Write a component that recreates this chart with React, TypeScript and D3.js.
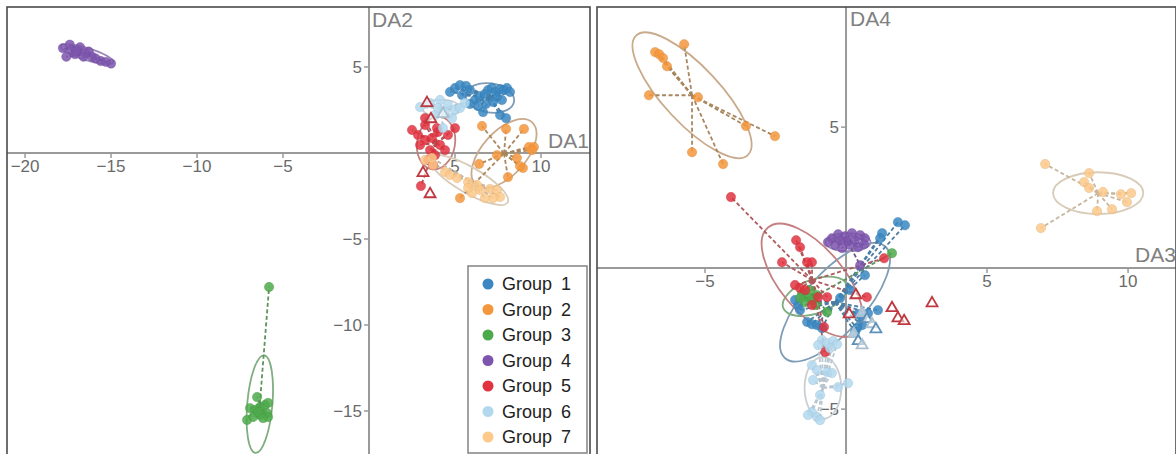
import React from "react";
import * as d3 from "d3";

type P = [number, number];

const groupLabels = ["Group", "Group", "Group", "Group", "Group", "Group", "Group"];
const groupNumbers = ["1", "2", "3", "4", "5", "6", "7"];
const pointColors = ["#3a87c2", "#f4973c", "#4daa4b", "#7d55ad", "#e0333f", "#b3d8ee", "#fdc98a"];
const lineColors = ["#4d7ea3", "#a8875f", "#5e925e", "#6a5a8f", "#b0585c", "#b9c6cf", "#c7b79e"];
const ellipseColors = ["#7d9cb7", "#c9aa8b", "#7fae7f", "#9a88b8", "#c47f80", "#c9cfd3", "#d8cbb7"];

// ---------- Left panel: DA1 (x) vs DA2 (y) ----------
const a1: P[] = [[4.71,3.55],[5.0,3.78],[5.29,3.95],[5.64,3.9],[5.87,3.66],[5.41,3.37],[6.16,3.08],[6.45,3.31],[6.74,3.43],[6.92,3.66],[7.15,3.78],[7.38,3.55],[7.62,3.72],[7.85,3.66],[8.02,3.78],[7.44,3.26],[7.73,3.08],[7.21,2.97],[6.8,2.85],[6.34,2.73],[5.87,2.85],[7.62,2.21],[7.97,2.03],[6.63,2.38],[8.2,3.55]];
const a2: P[] = [[6.57,1.57],[7.97,1.4],[9.01,1.4],[9.3,0.35],[9.59,0.35],[9.48,0.17],[7.44,-0.12],[8.6,-0.29],[8.95,-0.87],[8.08,-1.4],[6.4,-0.64],[8.78,-0.76],[5.29,-2.62]];
const a3: P[] = [[-5.81,-7.79],[-6.51,-14.19],[-6.92,-14.83],[-6.63,-14.94],[-6.34,-14.77],[-6.05,-14.65],[-5.87,-14.53],[-7.09,-15.52],[-6.74,-15.35],[-6.34,-15.23],[-5.93,-15.12],[-5.87,-15.35],[-6.45,-15.06],[-6.16,-15.41]];
const a4: P[] = [[-17.8,6.1],[-17.4,6.3],[-17.3,6.0],[-16.8,6.15],[-16.3,5.9],[-16.1,5.6],[-15.6,5.35],[-15.0,5.2],[-17.6,5.6],[-17.1,5.75],[-16.6,5.6],[-15.9,5.5],[-15.3,5.3],[-17.0,5.95],[-16.5,5.8]];
const a5: P[] = [[2.5,1.34],[3.26,1.63],[2.85,1.05],[3.26,0.76],[3.66,0.87],[4.01,1.22],[4.13,0.47],[4.42,0.17],[3.55,0.17],[2.97,0.47],[3.95,1.45],[4.59,1.05],[5.0,1.45],[3.43,-0.41],[3.84,-0.12],[3.02,-1.92],[3.72,-0.7],[3.26,2.03]];
const a6: P[] = [[2.97,2.67],[3.55,2.91],[4.13,3.08],[4.59,2.79],[5.0,2.5],[4.42,2.38],[3.84,2.21],[5.29,2.62],[4.83,2.03],[4.01,2.62],[5.58,2.91],[4.3,1.45]];
const a7: P[] = [[3.26,-0.41],[3.72,-0.7],[3.66,-0.29],[4.42,-1.1],[4.71,-1.28],[5.12,-1.45],[5.76,-1.69],[6.28,-1.86],[6.45,-2.15],[7.03,-2.09],[7.44,-2.15],[7.62,-2.56],[7.21,-2.62],[6.74,-2.62],[5.99,-2.33],[5.76,-2.03]];
// [group index, centre x, centre y, semi-axis a, semi-axis b, angle in degrees]
const aEllipses: number[][] = [[0,7.03,3.2,1.42,0.85,-8],[1,7.85,-0.03,2.44,1.28,48],[2,-6.35,-14.6,2.85,0.73,85],[3,-16.4,5.75,1.6,0.35,-17],[4,3.9,0.58,1.54,1.1,80],[5,4.2,2.6,1.1,0.5,0],[6,5.81,-1.57,2.6,0.75,-30]];
const aTriRed: P[] = [[3.37,2.97],[3.6,2.03],[3.14,-1.1],[3.55,-2.33]];
const aTriLight: P[] = [[4.3,2.33]];
const aTicksX = [-20, -15, -10, -5, 5, 10];
const aTicksY = [5, -5, -10, -15];

// ---------- Right panel: DA3 (x) vs DA4 (y) ----------
const b1: P[] = [[1.84,1.63],[2.09,1.52],[1.28,1.24],[1.21,1.06],[1.13,-1.49],[-1.7,-1.31],[-1.63,-1.49],[-1.38,-1.91],[-1.21,-1.99],[-1.03,-2.02],[-0.85,-2.13],[0.43,-1.63],[0.57,-1.77],[0.78,-1.6],[0.57,-2.02],[0.39,-2.13],[0.32,-2.27],[-1.81,-1.13],[-0.21,-1.06],[0.14,-0.78],[0.67,-0.25]];
const b2: P[] = [[-6.77,7.66],[-6.63,7.59],[-6.49,7.45],[-6.35,7.16],[-5.74,7.94],[-6.99,6.13],[-5.25,6.06],[-3.55,5.04],[-2.52,4.68],[-5.46,4.11],[-4.36,3.69]];
const b3: P[] = [[-1.56,-0.89],[-1.35,-1.03],[-1.21,-1.13],[-1.45,-1.21],[-1.03,-0.96],[-1.28,-0.78],[-1.1,-1.31],[-0.67,-1.56],[1.63,0.53],[-1.63,-1.06]];
const b4: P[] = [[-0.5,1.06],[-0.28,1.2],[-0.04,1.13],[0.21,1.24],[0.5,1.17],[0.67,1.06],[-0.39,0.82],[-0.14,0.71],[0.14,0.82],[0.43,0.74],[0.64,0.85],[-0.64,0.92],[0.04,0.96],[0.32,0.99],[-0.21,0.99],[0.5,0.1]];
const b5: P[] = [[-4.08,2.52],[-1.77,0.99],[-1.63,0.74],[-2.27,0.21],[-1.21,0.21],[-1.38,0.21],[-1.63,-0.71],[-0.99,-1.03],[-0.67,-1.03],[-0.78,-2.09],[-0.74,-2.98],[1.35,0.35],[0.74,-1.03],[-1.45,-0.78],[-1.21,-1.31],[-1.81,-0.6]];
const b6: P[] = [[-0.85,-2.55],[-0.67,-2.66],[-0.46,-2.59],[-0.32,-2.7],[-0.99,-2.73],[-0.57,-2.84],[-1.21,-3.44],[-1.03,-3.62],[-0.67,-3.69],[-0.5,-3.72],[-1.17,-3.97],[-0.28,-4.22],[0.07,-4.08],[-0.92,-4.5],[-1.21,-5.11],[-1.03,-5.28],[-0.92,-5.39],[-1.35,-5.21]];
const b7: P[] = [[7.06,3.69],[8.62,3.37],[8.44,3.05],[8.62,2.84],[9.11,2.7],[9.75,2.62],[10.11,2.66],[9.96,2.34],[8.9,2.02],[9.43,2.09],[6.91,1.42]];
const bEllipses: number[][] = [[0,-0.39,-1.21,2.66,1.06,48],[1,-5.46,6.13,2.9,1.0,-47],[2,-1.1,-1.0,1.2,0.6,20],[3,0.07,0.92,0.8,0.32,0],[4,-1.2,-0.43,2.44,1.13,-50],[5,-0.82,-4.25,1.1,0.65,90],[6,8.94,2.66,1.6,0.74,0]];
const bTriRed: P[] = [[0.35,-0.92],[0.11,-1.6],[1.63,-1.38],[1.84,-1.74],[2.06,-1.84],[3.05,-1.21]];
const bTriLight: P[] = [[0.57,-1.56],[0.74,-1.77],[0.92,-1.95],[1.06,-2.13],[0.28,-2.3],[0.43,-2.55],[0.57,-2.7]];
const bTicksX = [-5, 5, 10];
const bTicksY = [5, -5];

const fmt = d3.format("d");
const FONT = "'Liberation Sans', Arial, sans-serif";

type PanelProps = {
  id: string;
  frame: { x0: number; y0: number; x1: number; y1: number };
  xDomain: [number, number];
  yDomain: [number, number];
  groups: P[][];
  ellipses: number[][];
  triRed: P[];
  triLight: P[];
  ticksX: number[];
  ticksY: number[];
  xLabel: string;
  yLabel: string;
  xLabelPos: [number, number];
  yLabelPos: [number, number];
};

function Panel(p: PanelProps) {
  const { frame } = p;
  const x = d3.scaleLinear().domain(p.xDomain).range([frame.x0, frame.x1]);
  const y = d3.scaleLinear().domain(p.yDomain).range([frame.y0, frame.y1]);
  const x0 = x(0);
  const y0 = y(0);
  const kx = Math.abs(x(1) - x(0));
  const ky = Math.abs(y(1) - y(0));
  const tri = d3.symbol(d3.symbolTriangle, 52)();
  return (
    <g>
      <defs>
        <clipPath id={p.id}>
          <rect x={frame.x0} y={frame.y0} width={frame.x1 - frame.x0} height={frame.y1 - frame.y0} />
        </clipPath>
      </defs>
      <g clipPath={`url(#${p.id})`}>
        <line x1={frame.x0} x2={frame.x1} y1={y0} y2={y0} stroke="#9a9a9a" strokeWidth={2} />
        <line x1={x0} x2={x0} y1={frame.y0} y2={frame.y1} stroke="#9a9a9a" strokeWidth={2} />
        {p.ticksX.map((t) => (
          <g key={"tx" + t}>
            <line x1={x(t)} x2={x(t)} y1={y0} y2={y0 + 5} stroke="#9a9a9a" strokeWidth={1.5} />
            <text x={x(t)} y={y0 + 19} textAnchor="middle" fontSize={17} fill="#6a6a6a" fontFamily={FONT}>{fmt(t)}</text>
          </g>
        ))}
        {p.ticksY.map((t) => (
          <g key={"ty" + t}>
            <line x1={x0 - 5} x2={x0} y1={y(t)} y2={y(t)} stroke="#9a9a9a" strokeWidth={1.5} />
            <text x={x0 - 7} y={y(t) + 6} textAnchor="end" fontSize={17} fill="#6a6a6a" fontFamily={FONT}>{fmt(t)}</text>
          </g>
        ))}
        <text x={p.xLabelPos[0]} y={p.xLabelPos[1]} fontSize={21} fill="#808080" fontFamily={FONT}>{p.xLabel}</text>
        <text x={p.yLabelPos[0]} y={p.yLabelPos[1]} fontSize={21} fill="#808080" fontFamily={FONT}>{p.yLabel}</text>
        {p.ellipses.map((e, i) => (
          <ellipse key={"e" + i}
            transform={`translate(${x(e[1])},${y(e[2])}) rotate(${-e[5]})`}
            rx={e[3] * kx} ry={e[4] * ky} fill="none" stroke={ellipseColors[e[0]]} strokeWidth={1.8} />
        ))}
        {p.ellipses.map((e, i) => (
          <g key={"d" + i}>
            {p.groups[e[0]].map((pt, j) => (
              <line key={j} x1={x(e[1])} y1={y(e[2])} x2={x(pt[0])} y2={y(pt[1])}
                stroke={lineColors[e[0]]} strokeWidth={1.8} strokeDasharray="4 2.5" />
            ))}
          </g>
        ))}
        {p.groups.map((g, gi) => (
          <g key={"g" + gi}>
            {g.map((pt, j) => (
              <circle key={j} cx={x(pt[0])} cy={y(pt[1])} r={4.7} fill={pointColors[gi]} fillOpacity={0.85}
                stroke={d3.color(pointColors[gi])!.darker(0.4).toString()} strokeWidth={0.6} strokeOpacity={0.6} />
            ))}
          </g>
        ))}
        {p.triRed.map((pt, j) => (
          <path key={"tr" + j} d={tri!} transform={`translate(${x(pt[0])},${y(pt[1]) + 1})`} fill="#fff" fillOpacity={0.55} stroke="#c0383f" strokeWidth={1.8} />
        ))}
        {p.triLight.map((pt, j) => (
          <path key={"tl" + j} d={tri!} transform={`translate(${x(pt[0])},${y(pt[1]) + 1})`} fill="#fff" fillOpacity={0.55} stroke={j % 2 === 0 ? "#a9bfcd" : "#5d8fb8"} strokeWidth={1.8} />
        ))}
      </g>
      <rect x={frame.x0} y={frame.y0} width={frame.x1 - frame.x0} height={frame.y1 - frame.y0} fill="none" stroke="#4a4a4a" strokeWidth={1.6} />
    </g>
  );
}

export default function App() {
  const legendY = (i: number) => 284 + i * 25.5;
  return (
    <svg width={1176} height={454} style={{ position: "absolute", left: 0, top: 0, background: "#fff" }}>
      <rect x={0} y={0} width={1176} height={454} fill="#fff" />
      <Panel id="clipA" frame={{ x0: 7, y0: 7, x1: 590, y1: 462.6 }}
        xDomain={[-21.05, 12.85]} yDomain={[8.49, -18.0]}
        groups={[a1, a2, a3, a4, a5, a6, a7]} ellipses={aEllipses}
        triRed={aTriRed} triLight={aTriLight} ticksX={aTicksX} ticksY={aTicksY}
        xLabel="DA1" yLabel="DA2" xLabelPos={[548, 148]} yLabelPos={[372, 27]} />
      <Panel id="clipB" frame={{ x0: 597, y0: 7, x1: 1176, y1: 461 }}
        xDomain={[-8.83, 11.7]} yDomain={[9.26, -6.84]}
        groups={[b1, b2, b3, b4, b5, b6, b7]} ellipses={bEllipses}
        triRed={bTriRed} triLight={bTriLight} ticksX={bTicksX} ticksY={bTicksY}
        xLabel="DA3" yLabel="DA4" xLabelPos={[1135, 262]} yLabelPos={[850, 26]} />
      <g>
        <rect x={468} y={266} width={119} height={187} fill="#fff" stroke="#8a8a8a" strokeWidth={1.6} />
        {groupLabels.map((lab, i) => (
          <g key={i}>
            <circle cx={488} cy={legendY(i)} r={5.5} fill={pointColors[i]} />
            <text x={502} y={legendY(i) + 6} fontSize={18} fill="#222" fontFamily={FONT}>{lab}</text>
            <text x={566} y={legendY(i) + 6} fontSize={18} fill="#222" textAnchor="middle" fontFamily={FONT}>{groupNumbers[i]}</text>
          </g>
        ))}
      </g>
    </svg>
  );
}
